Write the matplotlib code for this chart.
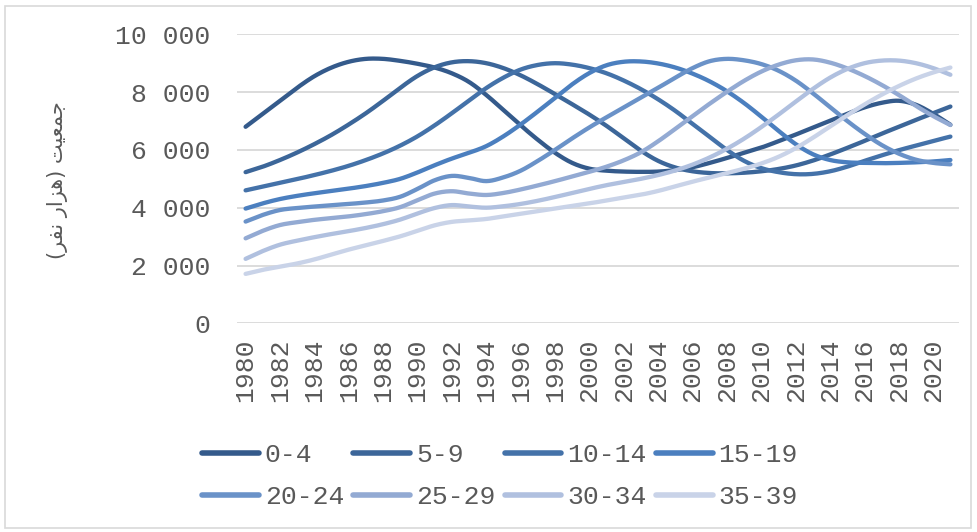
import numpy as np
import matplotlib.pyplot as plt
from matplotlib.patches import Rectangle
from matplotlib.ticker import FuncFormatter

years = list(range(1980, 2022))
groups = ["0-4", "5-9", "10-14", "15-19", "20-24", "25-29", "30-34", "35-39"]

age_0_4 = [6800, 7250, 7700, 8150, 8550, 8850, 9050, 9150, 9150, 9080,
           8980, 8850, 8650, 8350, 7900, 7380, 6850, 6350, 5900, 5550,
           5350, 5280, 5250, 5240, 5250, 5300, 5400, 5550, 5720, 5900,
           6080, 6300, 6530, 6770, 7010, 7250, 7470, 7630, 7700, 7560,
           7250, 6870]
age_5_9 = [5230, 5420, 5650, 5910, 6200, 6520, 6880, 7270, 7700, 8150,
           8560, 8860, 9030, 9070, 9000, 8830, 8580, 8270, 7930, 7580,
           7220, 6830, 6400, 5970, 5620, 5390, 5260, 5200, 5190, 5210,
           5260, 5340, 5460, 5630, 5840, 6070, 6310, 6560, 6800, 7040,
           7270, 7500]
age_10_14 = [4600, 4730, 4860, 4990, 5130, 5280, 5450, 5650, 5880, 6150,
             6470, 6850, 7270, 7710, 8140, 8500, 8780, 8940, 9000, 8950,
             8830, 8650, 8400, 8100, 7750, 7350, 6900, 6450, 6000, 5620,
             5370, 5230, 5160, 5170, 5260, 5420, 5620, 5810, 5990, 6150,
             6310, 6460]
age_15_19 = [3970, 4150, 4300, 4410, 4500, 4580, 4660, 4750, 4860, 5000,
             5220, 5470, 5700, 5900, 6130, 6470, 6880, 7330, 7800, 8270,
             8660, 8930, 9050, 9060, 8990, 8850, 8640, 8370, 8030, 7620,
             7150, 6660, 6200, 5850, 5650, 5570, 5550, 5540, 5550, 5570,
             5600, 5650]
age_20_24 = [3520, 3750, 3920, 3990, 4040, 4090, 4130, 4180, 4250, 4380,
             4650, 4950, 5100, 5030, 4920, 5050, 5280, 5620, 6000, 6400,
             6780, 7130, 7470, 7810, 8150, 8500, 8830, 9070, 9150, 9100,
             8970, 8740, 8400, 7960, 7480, 7000, 6560, 6170, 5870, 5660,
             5550, 5500]
age_25_29 = [2940, 3200, 3400, 3500, 3580, 3640, 3700, 3780, 3880, 4020,
             4260, 4490, 4570, 4490, 4440, 4510, 4630, 4770, 4920, 5080,
             5240, 5420, 5640, 5920, 6300, 6730, 7170, 7600, 8010, 8390,
             8710, 8950, 9100, 9130, 9020, 8820, 8560, 8250, 7900, 7520,
             7170, 6860]
age_30_34 = [2230, 2500, 2720, 2860, 2980, 3090, 3190, 3300, 3430, 3590,
             3800, 3990, 4090, 4040, 4000, 4050, 4130, 4240, 4370, 4510,
             4650, 4780, 4890, 5000, 5130, 5290, 5490, 5740, 6040, 6390,
             6790, 7220, 7670, 8110, 8500, 8800, 9000, 9090, 9090, 9000,
             8830, 8600]
age_35_39 = [1710, 1850, 1960, 2070, 2210, 2380, 2550, 2700, 2850, 3010,
             3200, 3390, 3510, 3560, 3610, 3700, 3790, 3880, 3970, 4060,
             4150, 4250, 4350, 4450, 4580, 4740, 4900, 5050, 5200, 5350,
             5530, 5760, 6060, 6420, 6810, 7200, 7570, 7910, 8210, 8470,
             8680, 8850]

series = [age_0_4, age_5_9, age_10_14, age_15_19,
          age_20_24, age_25_29, age_30_34, age_35_39]
colors = ["#345a8b", "#3c6699", "#4472a9", "#4b7fbf",
          "#6a92c8", "#93aad3", "#b0c0df", "#c9d3e8"]


def smooth(x, y, n=12):
    # catmull-rom through the points, like excel's smoothed line
    x = np.asarray(x, float)
    y = np.asarray(y, float)
    px = np.concatenate([[2 * x[0] - x[1]], x, [2 * x[-1] - x[-2]]])
    py = np.concatenate([[2 * y[0] - y[1]], y, [2 * y[-1] - y[-2]]])
    t = np.linspace(0, 1, n, endpoint=False)
    xs, ys = [], []
    for i in range(1, len(px) - 2):
        for p, out in ((px, xs), (py, ys)):
            p0, p1, p2, p3 = p[i - 1], p[i], p[i + 1], p[i + 2]
            out.extend(0.5 * (2 * p1 + (-p0 + p2) * t
                              + (2 * p0 - 5 * p1 + 4 * p2 - p3) * t ** 2
                              + (-p0 + 3 * p1 - 3 * p2 + p3) * t ** 3))
    xs.append(x[-1])
    ys.append(y[-1])
    return xs, ys


tick_font = "Liberation Mono"
grey = "#595959"
fs = 19

fig = plt.figure(figsize=(9.77, 5.32), dpi=100)
ax = fig.add_axes([237 / 977, (532 - 323.3) / 532,
                   (959 - 237) / 977, (323.3 - 34.3) / 532])

idx = np.arange(len(years))
lines = []
for name, vals, c in zip(groups, series, colors):
    sx, sy = smooth(idx, vals)
    ln, = ax.plot(sx, sy, color=c, lw=3.1, solid_capstyle="round",
                  solid_joinstyle="round", label=name)
    lines.append(ln)

ax.set_xlim(-0.5, len(years) - 0.5)
ax.set_ylim(0, 10000)
ax.set_yticks(range(0, 10001, 2000))
ax.yaxis.set_major_formatter(FuncFormatter(lambda v, p: f"{int(v):,}".replace(",", " ")))
ax.set_xticks(idx[::2])
ax.set_xticklabels([str(y) for y in years[::2]], rotation=90)
ax.grid(axis="y", color="#d9d9d9", lw=1.3)
ax.set_axisbelow(True)
for s in ax.spines.values():
    s.set_visible(False)
ax.tick_params(axis="y", length=0, pad=19, labelsize=fs, labelcolor=grey)
ax.tick_params(axis="x", length=0, pad=11, labelsize=fs, labelcolor=grey)
for lab in ax.get_xticklabels() + ax.get_yticklabels():
    lab.set_fontfamily(tick_font)

# persian label, written in visual order with shaped glyphs
ylab = "(\uFEAE\uFED4\uFEE7 \uFEAD\uFE8D\uFEB0\uFEEB) \uFE96\uFEF4\uFECC\uFEE4\uFE9F"
fig.text(57 / 977, 1 - 180 / 532, ylab, rotation=90, ha="center", va="center",
         fontsize=15, color=grey, family=["DejaVu Sans"])

# legend is filled row by row in the reference
order = [0, 4, 1, 5, 2, 6, 3, 7]
leg = fig.legend([lines[i] for i in order], [groups[i] for i in order],
                 loc="center", bbox_to_anchor=(500 / 977, 1 - 476 / 532),
                 ncol=4, frameon=False, prop={"family": tick_font, "size": fs},
                 handlelength=2.15, handletextpad=0.22, columnspacing=0.35,
                 labelspacing=0.68)
for t in leg.get_texts():
    t.set_color(grey)
for h in leg.get_lines():
    h.set_linewidth(4.0)

fig.patches.append(Rectangle((5 / 977, 4 / 532), 966 / 977, 522 / 532,
                             transform=fig.transFigure, fill=False,
                             edgecolor="#d9d9d9", lw=1.2))

fig.savefig("out.png", dpi=100)
plt.close(fig)
